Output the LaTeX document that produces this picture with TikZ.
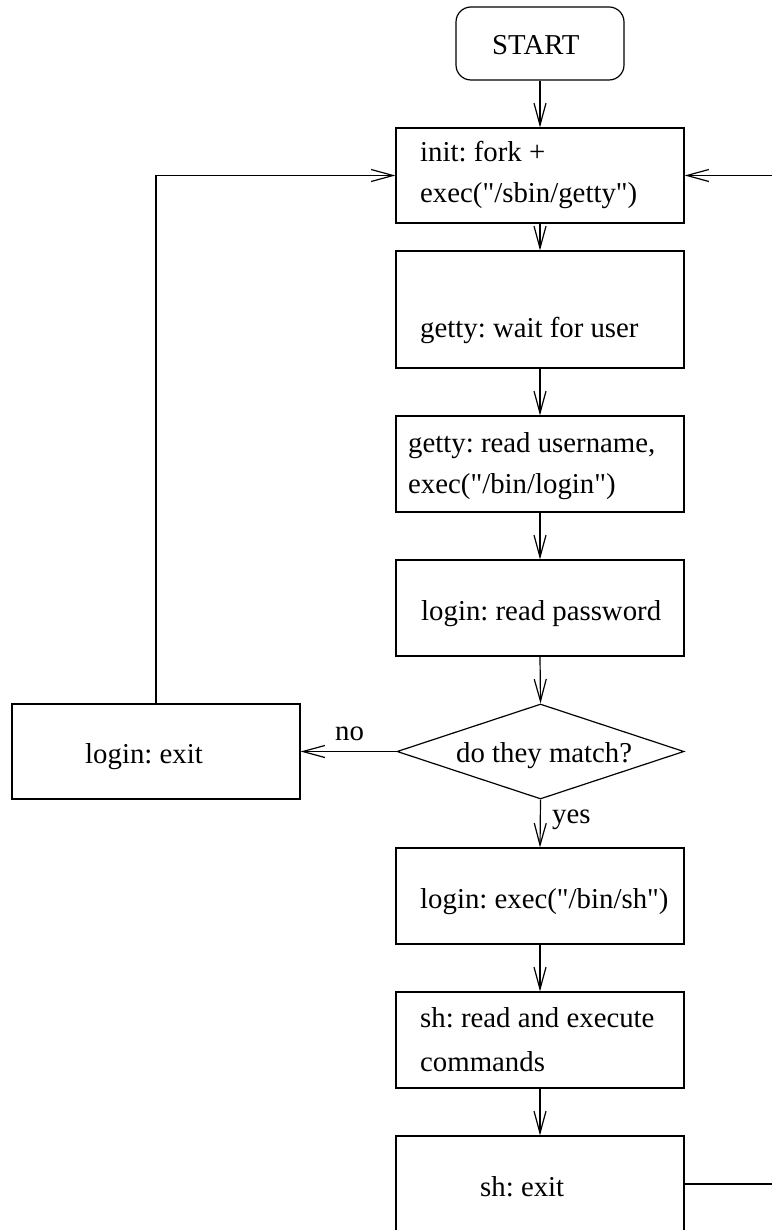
\documentclass[tikz,border=0pt]{standalone}
\usepackage{fontspec}
\setmainfont{Liberation Serif}[Ligatures=TeXOff]
\frenchspacing
\usetikzlibrary{arrows.meta,shapes.geometric}
\begin{document}
\begin{tikzpicture}[x=1pt,y=-1pt,
  every node/.style={font=\fontsize{28.8}{38}\selectfont\frenchspacing},
  box/.style={draw, line width=1.2pt, rectangle, minimum width=288, inner sep=0},
  txt/.style={inner sep=0, anchor=base west},
  conn/.style={line width=1.2pt, -{Straight Barb[length=22pt,width=12pt,line width=1.2pt]}},
  plain/.style={line width=1.2pt}]
\useasboundingbox (0,0) rectangle (771,1230);
% boxes
\node[box, rounded corners=15pt, minimum width=168, minimum height=73] (start) at (540,43.5) {};
\node[box, minimum height=95] (init) at (540,175.5) {};
\node[box, minimum height=117] (wait) at (540,309.5) {};
\node[box, minimum height=96] (read) at (540,464) {};
\node[box, minimum height=96] (pass) at (540,608) {};
\node[draw, line width=1.2pt, shape=diamond, inner sep=0, minimum width=287, minimum height=95] (match) at (540.5,751.5) {};
\node[box, minimum height=95] (lexit) at (156,751.5) {};
\node[box, minimum height=96] (lexec) at (540,896) {};
\node[box, minimum height=96] (shread) at (540,1040) {};
\node[box, minimum height=96] (shexit) at (540,1184) {};
% texts
\node[txt] (tstart) at (492,55) {START};
\node[txt] (tinit1) at (420,162) {init: fork +};
\node[txt] (tinit2) at (420,203) {exec("/sbin/getty")};
\node[txt] (twait) at (420,337) {getty: wait for user};
\node[txt] (tread1) at (408,452) {getty: read username,};
\node[txt] (tread2) at (408,493) {exec("/bin/login")};
\node[txt] (tpass) at (421,620) {login: read password};
\node[txt] (tmatch) at (456,762) {do they match?};
\node[txt] (tlexit) at (85,763) {login: exit};
\node[txt] (tno) at (335,740) {no};
\node[txt] (tyes) at (552,823) {yes};
\node[txt] (tlexec) at (420,908) {login: exec("/bin/sh")};
\node[txt] (tshread1) at (420,1027) {sh: read and execute};
\node[txt] (tshread2) at (420,1071) {commands};
\node[txt] (tshexit) at (480,1196) {sh: exit};
% connectors
\coordinate (rtop) at (790,175.5);
\coordinate (rbot) at (790,1184);
\draw[conn] (start.south) -- (init.north);
\draw[conn] (init.south) -- (wait.north);
\draw[conn, line width=1.8pt] (wait.south) -- (read.north);
\draw[conn] (read.south) -- (pass.north);
\draw[conn] (pass.south) -- (match.north);
\draw[conn] (match.west) -- (lexit.east);
\draw[conn] (match.south) -- (lexec.north);
\draw[conn] (lexec.south) -- (shread.north);
\draw[conn] (shread.south) -- (shexit.north);
\draw[conn] (lexit.north) |- (init.west);
\draw[conn] (shexit.east) -- (rbot) -- (rtop) -- (init.east);
\end{tikzpicture}
\end{document}
